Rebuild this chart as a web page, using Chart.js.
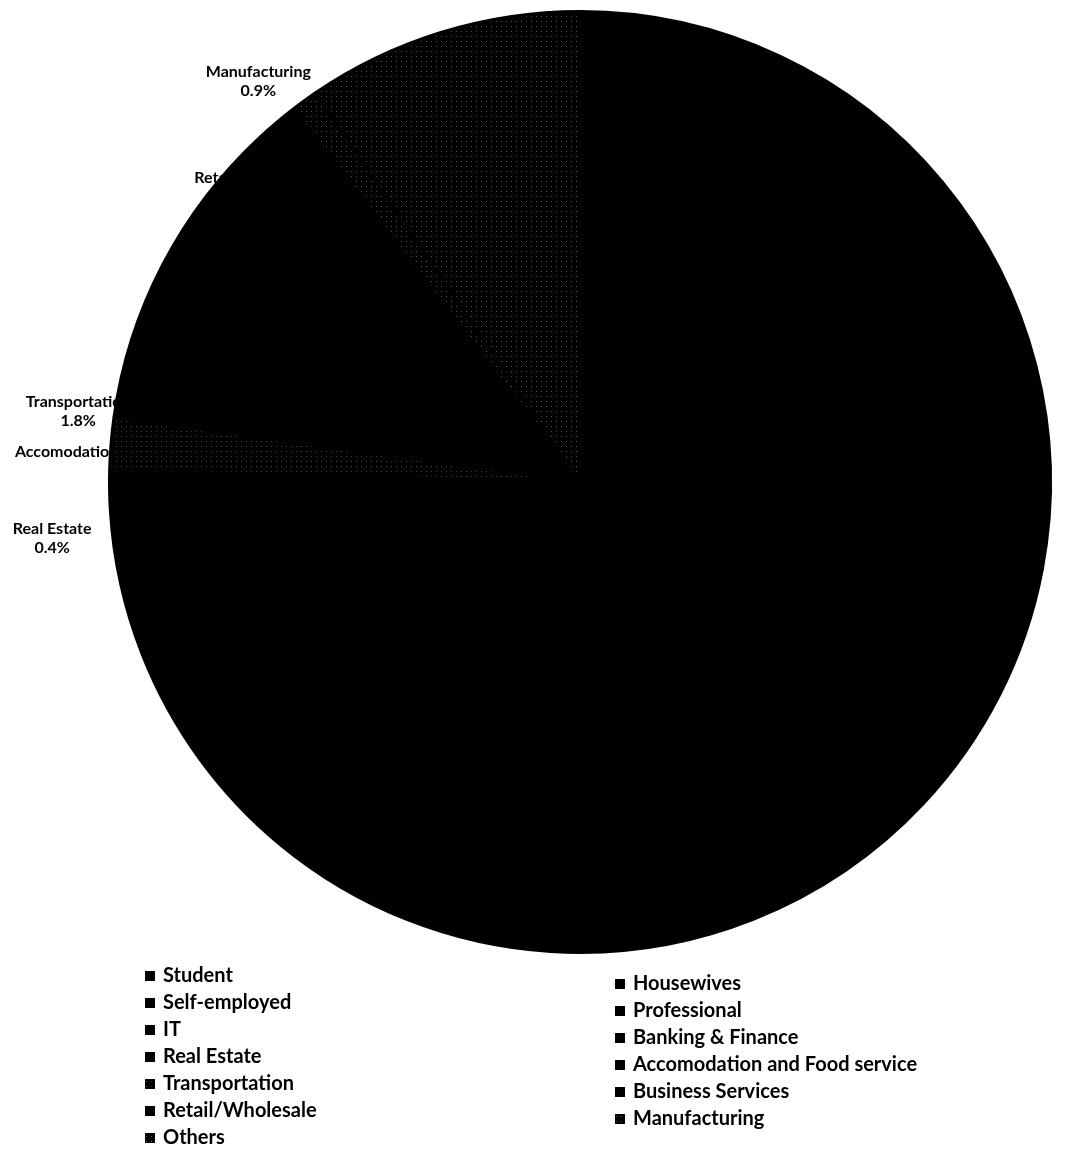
<!DOCTYPE html>
<html>
<head>
<meta charset="utf-8">
<script src="https://cdn.jsdelivr.net/npm/chart.js@4"></script>
<style>
  html, body { margin: 0; padding: 0; background: #fff; }
</style>
</head>
<body>
<canvas id="pieChart" width="1065" height="1159"></canvas>
<script>
// occupation of respondents, share in % (big black slices are estimates)
const categories = ['Student', 'Housewives', 'Self-employed', 'Professional', 'IT', 'Banking & Finance',
  'Real Estate', 'Accomodation and Food service', 'Transportation', 'Business Services',
  'Retail/Wholesale', 'Manufacturing', 'Others'];
const shares = [28, 9, 14, 10, 8, 5, 0.4, 1.0, 1.8, 10.9, 1.5, 0.9, 9.5];

const canvas = document.getElementById('pieChart');
const ctx = canvas.getContext('2d');

// black tile with a grey dot, like the speckled slices in the scan
function speckle(dot, size) {
  const tile = document.createElement('canvas');
  tile.width = size;
  tile.height = size;
  const t = tile.getContext('2d');
  t.fillStyle = '#000';
  t.fillRect(0, 0, size, size);
  t.fillStyle = dot;
  t.fillRect(1, 1, 1, 1);
  return ctx.createPattern(tile, 'repeat');
}

const sliceColors = categories.map(c => {
  if (c === 'Others' || c === 'Manufacturing') return speckle('#555', 5);
  if (c === 'Transportation') return speckle('#444', 5);
  return '#000';
});

// labels sit under the pie, so only the ones pushed outside show
const sliceLabels = {
  id: 'sliceLabels',
  beforeDatasetsDraw(chart, args, opts) {
    const c = chart.ctx;
    const meta = chart.getDatasetMeta(0);
    c.save();
    c.font = opts.font;
    c.fillStyle = '#000';
    c.textAlign = 'center';
    c.textBaseline = 'middle';
    meta.data.forEach((arc, i) => {
      const p = arc.getProps(['x', 'y', 'startAngle', 'endAngle', 'outerRadius'], true);
      const mid = (p.startAngle + p.endAngle) / 2;
      const value = chart.data.datasets[0].data[i];
      const label = chart.data.labels[i];
      const r = value < opts.outsideBelow ? p.outerRadius + opts.gap : p.outerRadius * 0.65;
      const nudge = opts.nudge[label] || [0, 0];
      const lx = p.x + Math.cos(mid) * r + nudge[0];
      const ly = p.y + Math.sin(mid) * r + nudge[1];
      c.fillText(label, lx, ly - 9.5);
      c.fillText(value.toFixed(1) + '%', lx, ly + 9.5);
    });
    c.restore();
  }
};

// Excel style legend: two columns, filled row by row
const columnLegend = {
  id: 'columnLegend',
  afterDraw(chart, args, opts) {
    const c = chart.ctx;
    const ds = chart.data.datasets[0];
    c.save();
    c.font = opts.font;
    c.textAlign = 'left';
    c.textBaseline = 'middle';
    chart.data.labels.forEach((label, i) => {
      const col = i % 2;
      const row = Math.floor(i / 2);
      const x = opts.columns[col];
      const y = opts.top + opts.colShift[col] + row * opts.rowHeight;
      c.fillStyle = ds.backgroundColor[i];
      c.fillRect(x, y - 5, 10, 10);
      c.fillStyle = '#000';
      c.fillText(label, x + 18, y);
    });
    c.restore();
  }
};

new Chart(canvas, {
  type: 'pie',
  data: {
    labels: categories,
    datasets: [{
      data: shares,
      backgroundColor: sliceColors,
      borderColor: '#000',
      borderWidth: 3
    }]
  },
  options: {
    responsive: false,
    animation: false,
    layout: { padding: { left: 108, right: 13, top: 10, bottom: 205 } },
    plugins: {
      legend: { display: false },
      tooltip: { enabled: false },
      sliceLabels: {
        font: 'bold 16px Lato',
        outsideBelow: 2,
        gap: 45,
        nudge: {
          'Real Estate': [-13, 30],
          'Accomodation and Food service': [64, -24],
          'Transportation': [12, -29],
          'Retail/Wholesale': [8, 99],
          'Manufacturing': [-20, 17]
        }
      },
      columnLegend: {
        font: 'bold 20px Lato',
        columns: [145, 615],
        colShift: [0, 8],
        top: 976,
        rowHeight: 27
      }
    }
  },
  plugins: [sliceLabels, columnLegend]
});
</script>
</body>
</html>
